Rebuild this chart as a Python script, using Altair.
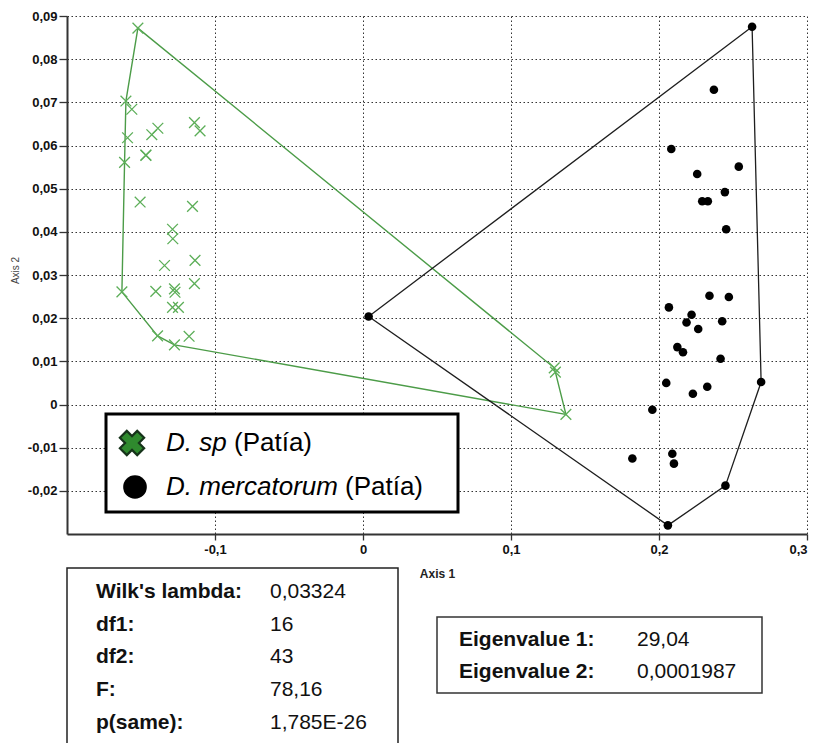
import altair as alt
import pandas as pd

# ---------------- data ----------------
# D. sp (Patía): canonical scores on Axis 1 / Axis 2
sp_axis1 = [-0.1521, -0.1602, -0.1562, -0.1591, -0.1611, -0.1467, -0.1467, -0.1427, -0.1386, -0.1139,
            -0.1101, -0.1506, -0.1152, -0.1287, -0.1285, -0.1341, -0.1135, -0.1629, -0.1400, -0.1274,
            -0.1270, -0.1139, -0.1287, -0.1247, -0.1388, -0.1274, -0.1175, 0.1292, 0.1300, 0.1371]
sp_axis2 = [0.0872, 0.0703, 0.0684, 0.0618, 0.0561, 0.0577, 0.0578, 0.0625, 0.0640, 0.0653,
            0.0634, 0.0469, 0.0459, 0.0406, 0.0384, 0.0322, 0.0334, 0.0261, 0.0262, 0.0268,
            0.0260, 0.0280, 0.0225, 0.0225, 0.0159, 0.0138, 0.0158, 0.0085, 0.0075, -0.0023]

# D. mercatorum (Patía)
mer_axis1 = [0.2629, 0.2371, 0.2083, 0.2539, 0.2258, 0.2445, 0.2292, 0.2330, 0.2454, 0.0038,
             0.2341, 0.2472, 0.2067, 0.2220, 0.2186, 0.2427, 0.2265, 0.2124, 0.2162, 0.2416,
             0.2690, 0.2049, 0.2326, 0.2229, 0.1955, 0.1820, 0.2090, 0.2101, 0.2449, 0.2060]
mer_axis2 = [0.0875, 0.0729, 0.0592, 0.0551, 0.0534, 0.0492, 0.0471, 0.0471, 0.0406, 0.0204,
             0.0252, 0.0249, 0.0225, 0.0208, 0.0190, 0.0193, 0.0175, 0.0133, 0.0121, 0.0106,
             0.0052, 0.0050, 0.0041, 0.0025, -0.0012, -0.0125, -0.0114, -0.0137, -0.0188, -0.0280]

x_ticks = [-0.1, 0, 0.1, 0.2, 0.3]
y_ticks = [-0.02, -0.01, 0, 0.01, 0.02, 0.03, 0.04, 0.05, 0.06, 0.07, 0.08, 0.09]

legend_species = ["D. sp", "D. mercatorum"]
legend_locality = ["(Patía)", "(Patía)"]

stats_labels = ["Wilk's lambda:", "df1:", "df2:", "F:", "p(same):"]
stats_values = ["0,03324", "16", "43", "78,16", "1,785E-26"]
eig_labels = ["Eigenvalue 1:", "Eigenvalue 2:"]
eig_values = ["29,04", "0,0001987"]


# ---------------- helpers ----------------
def convex_hull(xs, ys):
    pts = sorted(set(zip(xs, ys)))

    def cross(o, a, b):
        return (a[0] - o[0]) * (b[1] - o[1]) - (a[1] - o[1]) * (b[0] - o[0])

    lower, upper = [], []
    for p in pts:
        while len(lower) >= 2 and cross(lower[-2], lower[-1], p) <= 0:
            lower.pop()
        lower.append(p)
    for p in reversed(pts):
        while len(upper) >= 2 and cross(upper[-2], upper[-1], p) <= 0:
            upper.pop()
        upper.append(p)
    hull = lower[:-1] + upper[:-1]
    hull.append(hull[0])
    return pd.DataFrame({"a1": [p[0] for p in hull], "a2": [p[1] for p in hull],
                         "ord": list(range(len(hull)))})


sp_df = pd.DataFrame({"a1": sp_axis1, "a2": sp_axis2})
mer_df = pd.DataFrame({"a1": mer_axis1, "a2": mer_axis2})
sp_hull = convex_hull(sp_axis1, sp_axis2)
mer_hull = convex_hull(mer_axis1, mer_axis2)

W, H = 740, 518
FONT = "Liberation Sans"

xscale = alt.Scale(domain=[-0.2, 0.3], nice=False, zero=False)
yscale = alt.Scale(domain=[-0.03, 0.09], nice=False, zero=False)

num_expr = "replace('' + datum.value, '.', ',')"

x_enc = alt.X("a1:Q", scale=xscale,
              axis=alt.Axis(values=x_ticks, labelExpr=num_expr, title="Axis 1",
                            titleX=370, titleY=39, titleBaseline="middle", titleAlign="center",
                            titleFontSize=12, titleFontWeight="bold", titleFont=FONT,
                            titleColor="#222", tickSize=6, labelPadding=3))
y_enc = alt.Y("a2:Q", scale=yscale,
              axis=alt.Axis(values=y_ticks, labelExpr=num_expr, title="Axis 2",
                            titleX=-52, titleY=254, titleAngle=270, titleAlign="center",
                            titleBaseline="middle", titleFontSize=10, titleFontWeight="normal",
                            titleFont=FONT, titleColor="#444", tickSize=8, labelPadding=2))

sp_line = alt.Chart(sp_hull).mark_line(color="#4c9c48", strokeWidth=1.4).encode(
    x=x_enc, y=y_enc, order="ord:Q")
mer_line = alt.Chart(mer_hull).mark_line(color="#1e1e1e", strokeWidth=1.3).encode(
    x="a1:Q", y="a2:Q", order="ord:Q")

sp_pts = alt.Chart(sp_df).mark_point(
    shape="M-1,-1L1,1M-1,1L1,-1", filled=False, color="#5cae58", size=115,
    strokeWidth=1.3, opacity=1).encode(x="a1:Q", y="a2:Q")
mer_pts = alt.Chart(mer_df).mark_circle(size=74, color="black", opacity=1).encode(
    x="a1:Q", y="a2:Q")

one = pd.DataFrame({"k": [0]})

# ---------------- legend box ----------------
leg_box = alt.Chart(one).mark_rect(fill="white", stroke="black", strokeWidth=3).encode(
    x=alt.value(39), x2=alt.value(391), y=alt.value(398), y2=alt.value(496))
leg_x = alt.Chart(one).mark_point(shape="cross", angle=45, filled=True, fill="#2f8a2e",
                                  stroke="#16331a", strokeWidth=2.2, size=600, opacity=1).encode(
    x=alt.value(65), y=alt.value(427))
leg_dot = alt.Chart(one).mark_circle(size=560, color="black", opacity=1).encode(
    x=alt.value(68), y=alt.value(471))

leg_rows_y = [427, 471]
leg_loc_x = [167, 278]
leg_layers = []
for i in range(2):
    d = pd.DataFrame({"sp": [legend_species[i]], "loc": [legend_locality[i]]})
    leg_layers.append(alt.Chart(d).mark_text(
        font=FONT, fontSize=26, fontStyle="italic", align="left", baseline="middle",
        color="black").encode(text="sp:N", x=alt.value(99), y=alt.value(leg_rows_y[i])))
    leg_layers.append(alt.Chart(d).mark_text(
        font=FONT, fontSize=26, align="left", baseline="middle",
        color="black").encode(text="loc:N", x=alt.value(leg_loc_x[i]), y=alt.value(leg_rows_y[i])))

# ---------------- statistics boxes ----------------
box1 = alt.Chart(one).mark_rect(fill="white", stroke="#222", strokeWidth=1.5).encode(
    x=alt.value(0), x2=alt.value(331), y=alt.value(552), y2=alt.value(760))
box2 = alt.Chart(one).mark_rect(fill="white", stroke="#333", strokeWidth=1.5).encode(
    x=alt.value(370), x2=alt.value(695), y=alt.value(601), y2=alt.value(677))

stat_layers = []
for i in range(len(stats_labels)):
    d = pd.DataFrame({"lab": [stats_labels[i]], "val": [stats_values[i]]})
    yy = 576 + i * 32.7
    stat_layers.append(alt.Chart(d).mark_text(
        font=FONT, fontSize=21, fontWeight="bold", align="left", baseline="middle",
        color="#111").encode(text="lab:N", x=alt.value(29), y=alt.value(yy)))
    stat_layers.append(alt.Chart(d).mark_text(
        font=FONT, fontSize=21, align="left", baseline="middle",
        color="#111").encode(text="val:N", x=alt.value(203), y=alt.value(yy)))
for i in range(len(eig_labels)):
    d = pd.DataFrame({"lab": [eig_labels[i]], "val": [eig_values[i]]})
    yy = 624 + i * 32
    stat_layers.append(alt.Chart(d).mark_text(
        font=FONT, fontSize=21, fontWeight="bold", align="left", baseline="middle",
        color="#111").encode(text="lab:N", x=alt.value(392), y=alt.value(yy)))
    stat_layers.append(alt.Chart(d).mark_text(
        font=FONT, fontSize=21, align="left", baseline="middle",
        color="#111").encode(text="val:N", x=alt.value(570), y=alt.value(yy)))

chart = alt.layer(
    sp_line, mer_line, sp_pts, mer_pts,
    leg_box, leg_x, leg_dot, *leg_layers,
    box1, box2, *stat_layers
).properties(
    width=W, height=H,
    padding={"left": 67, "top": 16, "right": 8, "bottom": 209},
    autosize=alt.AutoSizeParams(type="none"),
    background="white",
).configure_view(strokeWidth=0).configure_axis(
    grid=True, gridColor="#333", gridDash=[1.5, 2.5], gridWidth=1, gridOpacity=1,
    domainColor="#333", domainWidth=2, tickColor="#333", tickWidth=1.3,
    labelFont=FONT, labelFontWeight="bold", labelFontSize=13, labelColor="#111",
)

chart.save("out.html", embed_options={"renderer": "svg", "actions": False})
